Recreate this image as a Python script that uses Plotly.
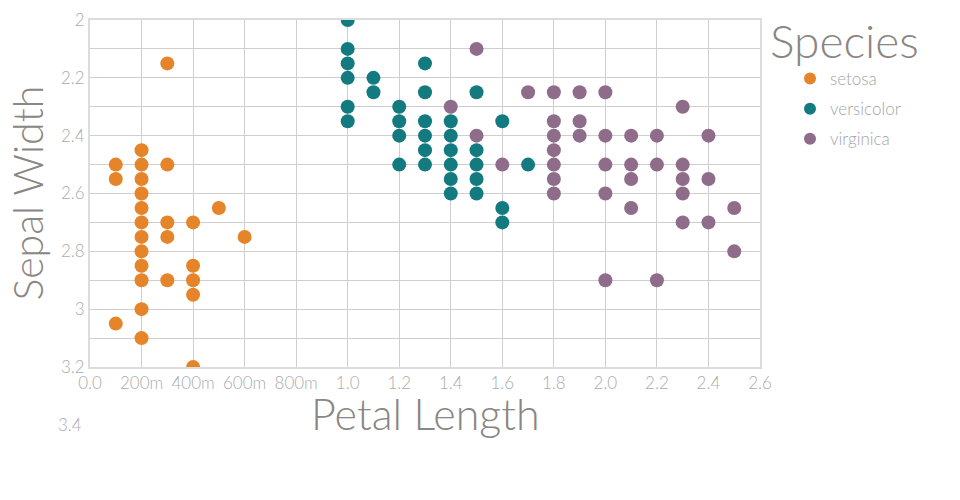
import plotly.graph_objects as go

species = ["setosa", "versicolor", "virginica"]
colors = ["#E6842A", "#137B80", "#8E6C8A"]

setosa_x = [0.3, 0.1, 0.1, 0.1,
            0.2, 0.2, 0.2, 0.2, 0.2, 0.2, 0.2, 0.2, 0.2, 0.2, 0.2, 0.2,
            0.3, 0.3, 0.3, 0.3,
            0.4, 0.4, 0.4, 0.4, 0.4,
            0.5, 0.6]
setosa_y = [2.15, 2.5, 2.55, 3.05,
            2.45, 2.5, 2.55, 2.6, 2.65, 2.7, 2.75, 2.8, 2.85, 2.9, 3.0, 3.1,
            2.5, 2.7, 2.75, 2.9,
            2.7, 2.85, 2.9, 2.95, 3.2,
            2.65, 2.75]

versicolor_x = [1.0, 1.0, 1.0, 1.0, 1.0, 1.0,
                1.1, 1.1,
                1.2, 1.2, 1.2, 1.2,
                1.3, 1.3, 1.3, 1.3, 1.3, 1.3,
                1.4, 1.4, 1.4, 1.4, 1.4, 1.4,
                1.5, 1.5, 1.5, 1.5, 1.5,
                1.6, 1.6, 1.6,
                1.7]
versicolor_y = [2.0, 2.1, 2.15, 2.2, 2.3, 2.35,
                2.2, 2.25,
                2.3, 2.35, 2.4, 2.5,
                2.15, 2.25, 2.35, 2.4, 2.45, 2.5,
                2.35, 2.4, 2.45, 2.5, 2.55, 2.6,
                2.25, 2.45, 2.5, 2.55, 2.6,
                2.35, 2.65, 2.7,
                2.5]

virginica_x = [1.4, 1.5, 1.5, 1.6, 1.7,
               1.8, 1.8, 1.8, 1.8, 1.8, 1.8, 1.8,
               1.9, 1.9, 1.9,
               2.0, 2.0, 2.0, 2.0, 2.0,
               2.1, 2.1, 2.1, 2.1,
               2.2, 2.2, 2.2,
               2.3, 2.3, 2.3, 2.3, 2.3,
               2.4, 2.4, 2.4,
               2.5, 2.5]
virginica_y = [2.3, 2.1, 2.4, 2.5, 2.25,
               2.25, 2.35, 2.4, 2.45, 2.5, 2.55, 2.6,
               2.25, 2.35, 2.4,
               2.25, 2.4, 2.5, 2.6, 2.9,
               2.4, 2.5, 2.55, 2.65,
               2.4, 2.5, 2.9,
               2.3, 2.5, 2.55, 2.6, 2.7,
               2.4, 2.55, 2.7,
               2.65, 2.8]

x_tickvals = [0.0, 0.2, 0.4, 0.6, 0.8, 1.0, 1.2, 1.4, 1.6, 1.8, 2.0, 2.2, 2.4, 2.6]
x_ticktext = ["0.0", "200m", "400m", "600m", "800m", "1.0", "1.2", "1.4", "1.6",
              "1.8", "2.0", "2.2", "2.4", "2.6"]
y_tickvals = [2.0, 2.2, 2.4, 2.6, 2.8, 3.0, 3.2]
y_ticktext = ["2", "2.2", "2.4", "2.6", "2.8", "3", "3.2"]
y_extra_tick = 3.4
y_extra_text = "3.4"
x_range = [0.0, 2.6]
y_range = [2.0, 3.2]

FONT = "Lato"
TICK_COLOR = "#ababab"
TITLE_COLOR = "#8a8682"
LEGEND_TEXT_COLOR = "#a5a5a5"

fig = go.Figure()
for name, col, xs, ys in zip(species, colors,
                             [setosa_x, versicolor_x, virginica_x],
                             [setosa_y, versicolor_y, virginica_y]):
    fig.add_trace(go.Scatter(x=xs, y=ys, mode="markers", name=name, legendgroup=name,
                             marker=dict(color=col, size=14, line=dict(width=0))))

grid_col = "#cfcfcf"
fig.update_xaxes(range=x_range, tickvals=x_tickvals, ticktext=x_ticktext,
                 showgrid=True, gridcolor=grid_col, gridwidth=1,
                 showline=True, linecolor="#dcdcdc", linewidth=2, mirror=True,
                 zeroline=False, ticks="", ticklen=0,
                 tickfont=dict(family=FONT, size=17, color=TICK_COLOR, weight=300))
fig.update_yaxes(range=[y_range[1], y_range[0]], tickvals=y_tickvals, ticktext=y_ticktext,
                 showgrid=True, gridcolor=grid_col, gridwidth=1,
                 minor=dict(dtick=0.1, showgrid=True, gridcolor=grid_col, gridwidth=1, tick0=2.0),
                 showline=True, linecolor="#dcdcdc", linewidth=2, mirror=True,
                 zeroline=False, ticks="", ticklen=0,
                 tickfont=dict(family=FONT, size=17, color=TICK_COLOR, weight=300))

# extra tick label drawn beyond the axis range, as in the reference
extra_paper_y = 1 - (y_extra_tick - y_range[0]) / (y_range[1] - y_range[0])
fig.add_annotation(x=0, xref="paper", y=extra_paper_y, yref="paper",
                   text=y_extra_text, showarrow=False, xanchor="right", yanchor="middle",
                   xshift=-6,
                   font=dict(family=FONT, size=17, color=TICK_COLOR, weight=300))

# axis titles
fig.add_annotation(x=0.5, xref="paper", y=0, yref="paper", text="Petal Length",
                   showarrow=False, xanchor="center", yanchor="middle", yshift=-46,
                   font=dict(family=FONT, size=43, color=TITLE_COLOR, weight=300))
fig.add_annotation(x=0, xref="paper", y=0.5, yref="paper", text="Sepal Width",
                   showarrow=False, xanchor="center", yanchor="middle", xshift=-63,
                   textangle=-90,
                   font=dict(family=FONT, size=41, color=TITLE_COLOR, weight=300))
# legend title
fig.add_annotation(x=(844 - 90) / 670, xref="paper", y=(367 - 40) / 347, yref="paper",
                   text="Species", showarrow=False, xanchor="center", yanchor="middle",
                   font=dict(family=FONT, size=46, color=TITLE_COLOR, weight=300))

fig.update_layout(
    width=960, height=500,
    margin=dict(l=82, r=208, t=12, b=141, autoexpand=False),
    plot_bgcolor="white", paper_bgcolor="white",
    showlegend=True,
    legend=dict(x=(790 - 90) / 670, xanchor="left", y=(367 - 61) / 347, yanchor="top",
                font=dict(family=FONT, size=17, color=LEGEND_TEXT_COLOR, weight=300),
                itemsizing="constant", tracegroupgap=5, traceorder="grouped"),
)

fig.write_html("out.html")
